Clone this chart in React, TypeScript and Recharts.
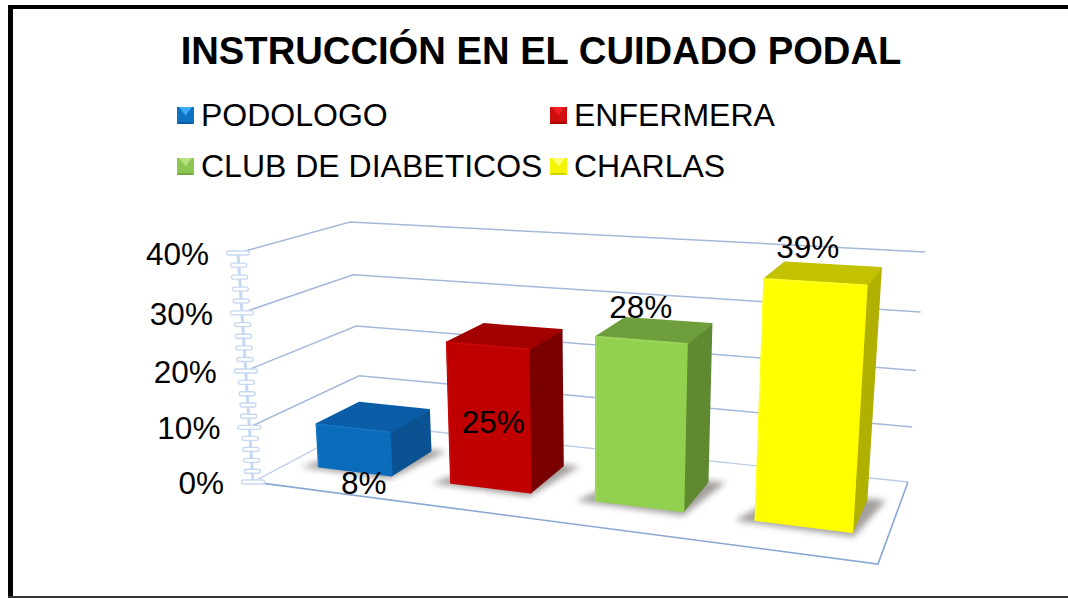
import React from "react";
import { BarChart, Bar, XAxis, YAxis, Legend, LabelList, Customized } from "recharts";

const TITLE = "INSTRUCCIÓN EN EL CUIDADO PODAL";
const categories = ["PODOLOGO", "ENFERMERA", "CLUB DE DIABETICOS", "CHARLAS"];
const percentValues = [8, 25, 28, 39];
const axisTicks = [0, 2, 4, 6, 8, 10, 12, 14, 16, 18, 20, 22, 24, 26, 28, 30, 32, 34, 36, 38, 40];
const gridValues = [10, 20, 30, 40];
const AXIS_MAX = 40;

const rows = categories.map((name, i) => ({ name, value: percentValues[i] }));

const FRONT = ["#0b6cbb", "#c00000", "#92d050", "#ffff00"];
const TOP = ["#0a5da6", "#a30000", "#6f9f3d", "#c2c200"];
const SIDE = ["#0a5292", "#7a0000", "#5f8a31", "#b0b000"];
const EDGE = ["#1a78c4", "#cc0a0a", "#a0d963", "#ffff30"];
const LEGEND_LIGHT = ["#3fa9f5", "#f02020", "#b7e07e", "#ffff70"];
const LEGEND_MID = ["#0f74c4", "#cf0f0f", "#8ec653", "#f4f400"];
const LEGEND_DARK = ["#0a5ea8", "#a30000", "#74a53f", "#d0d000"];
const LABEL_NUDGE = [[11, 55], [6, 76], [0, -33], [-7, -35]];

const W = 1068;
const H = 598;
const PLOT = { left: 250, top: 250, width: 650, height: 230 };
const BAR_SHIFT = 0.005;
const FONT = "'Liberation Sans', Arial, sans-serif";

type P = [number, number];
// corners: front-left, front-right, back-right, back-left
const FLOOR: P[] = [[253, 482], [878, 564], [908, 482], [362, 424]];
const CEIL: P[] = [[238, 253], [895, 296], [925, 252], [350, 222]];

function homography(q: P[]) {
  const [[x0, y0], [x1, y1], [x2, y2], [x3, y3]] = q;
  const sx = x0 - x1 + x2 - x3;
  const sy = y0 - y1 + y2 - y3;
  const dx1 = x1 - x2, dx2 = x3 - x2, dy1 = y1 - y2, dy2 = y3 - y2;
  const den = dx1 * dy2 - dx2 * dy1;
  const g = (sx * dy2 - dx2 * sy) / den;
  const h = (dx1 * sy - sx * dy1) / den;
  const a = x1 - x0 + g * x1, b = x3 - x0 + h * x3;
  const d = y1 - y0 + g * y1, e = y3 - y0 + h * y3;
  return (u: number, t: number): P => {
    const w = 1 + g * u + h * t;
    return [(a * u + b * t + x0) / w, (d * u + e * t + y0) / w];
  };
}
const floorH = homography(FLOOR);
const ceilH = homography(CEIL);
function project(u: number, depth: number, v: number): P {
  const a = floorH(u, depth);
  const b = ceilH(u, depth);
  // the view looks slightly upward, so higher values are spaced a little wider
  const k = v * (1 - 0.06 * (1 - v));
  return [a[0] + (b[0] - a[0]) * k, a[1] + (b[1] - a[1]) * k];
}
const pts = (list: P[]) => list.map((p) => `${p[0].toFixed(1)},${p[1].toFixed(1)}`).join(" ");

const D0 = 0.3;
const D1 = 0.7;

function Bar3D(props: any) {
  const { x, y, width, height, index } = props;
  if (height == null) return null;
  const u0 = (x - PLOT.left) / PLOT.width + BAR_SHIFT;
  const u1 = (x + width - PLOT.left) / PLOT.width + BAR_SHIFT;
  const v = (PLOT.top + PLOT.height - y) / PLOT.height;
  const fbl = project(u0, D0, 0), fbr = project(u1, D0, 0), bbr = project(u1, D1, 0);
  const ftl = project(u0, D0, v), ftr = project(u1, D0, v);
  const btr = project(u1, D1, v), btl = project(u0, D1, v);
  const shadow: P[] = [
    project(u0 - 0.028, D0 - 0.035, 0),
    project(u1 + 0.005, D0 - 0.05, 0),
    project(u1 + 0.028, D1 + 0.02, 0),
    project(u0 + 0.02, D1, 0),
  ];
  const round = { strokeLinejoin: "round" as const, strokeWidth: 2 };
  return (
    <g>
      <polygon points={pts(shadow)} fill="#77726e" opacity={0.68} filter="url(#barShadow)" />
      <polygon points={pts([fbr, bbr, btr, ftr])} fill={SIDE[index]} stroke={SIDE[index]} {...round} />
      <polygon points={pts([ftl, ftr, btr, btl])} fill={TOP[index]} stroke={TOP[index]} {...round} />
      <polygon points={pts([fbl, fbr, ftr, ftl])} fill={FRONT[index]} stroke={FRONT[index]} {...round} />
      <polyline points={pts([fbl, ftl, ftr])} fill="none" stroke={EDGE[index]} strokeWidth={1.2} strokeLinejoin="round" />
    </g>
  );
}

function ValueLabel(props: any) {
  const { x, y, width, index, value } = props;
  const u = (x + width / 2 - PLOT.left) / PLOT.width + BAR_SHIFT;
  const v = (PLOT.top + PLOT.height - y) / PLOT.height;
  const p = project(u, D0, v);
  return (
    <text
      x={p[0] + LABEL_NUDGE[index][0]}
      y={p[1] + LABEL_NUDGE[index][1]}
      textAnchor="middle"
      dominantBaseline="central"
      fontFamily={FONT}
      fontSize={31.5}
      fill="#000"
    >
      {value}%
    </text>
  );
}

function AxisTick(props: any) {
  const value = props.payload.value as number;
  const p = project(0, 0, value / AXIS_MAX);
  const major = value % 10 === 0;
  const w = major ? 23 : 16;
  return (
    <g>
      <rect
        x={p[0] - w / 2}
        y={p[1] - 2}
        width={w}
        height={4}
        rx={2}
        fill="#fff"
        stroke="#c6d9f1"
        strokeWidth={1.4}
      />
      {major && (
        <text
          x={p[0] - 29}
          y={p[1] + 1}
          textAnchor="end"
          dominantBaseline="central"
          fontFamily={FONT}
          fontSize={31.5}
          fill="#000"
        >
          {value}%
        </text>
      )}
    </g>
  );
}

function Walls() {
  const spineA = project(0, 0, 0);
  const spineB = project(0, 0, 1);
  return (
    <g fill="none">
      <defs>
        <filter id="barShadow" x="-30%" y="-30%" width="160%" height="160%">
          <feGaussianBlur stdDeviation="3.2" />
        </filter>
      </defs>
      {gridValues.map((g) => {
        const v = g / AXIS_MAX;
        return (
          <polyline
            key={g}
            points={pts([project(0, 0, v), project(0, 1, v), project(1, 1, v)])}
            stroke="#a4b9d9"
            strokeWidth={1.5}
          />
        );
      })}
      <polyline
        points={pts([project(0, 0, 0), project(0, 1, 0), project(1, 1, 0)])}
        stroke="#bccde6"
        strokeWidth={1.3}
      />
      <polyline
        points={pts([project(0, 0, 0), project(1, 0, 0), project(1, 1, 0)])}
        stroke="#8aa7d4"
        strokeWidth={1.6}
      />
      <line x1={spineA[0]} y1={spineA[1]} x2={spineB[0]} y2={spineB[1]} stroke="#c6d9f1" strokeWidth={3} />
    </g>
  );
}

function LegendSwatch({ index }: { index: number }) {
  const s = 17;
  const c = s / 2;
  return (
    <svg width={s} height={s} style={{ display: "block", flex: "none" }}>
      <rect width={s} height={s} fill={LEGEND_MID[index]} />
      <polygon points={`2,0 ${s - 2},0 ${c},${c}`} fill={LEGEND_LIGHT[index]} />
      <polygon points={`0,${s} ${s},${s} ${s - 2},${s - 2} 2,${s - 2}`} fill={LEGEND_DARK[index]} />
    </svg>
  );
}

function LegendGrid() {
  const cols = [177, 550];
  const rowsY = [0, 51];
  return (
    <div style={{ position: "relative", width: W, height: 110, fontFamily: FONT, fontSize: 32, color: "#000" }}>
      {categories.map((name, i) => (
        <div
          key={name}
          style={{
            position: "absolute",
            left: cols[i % 2],
            top: rowsY[Math.floor(i / 2)],
            height: 50,
            display: "flex",
            alignItems: "center",
            gap: 7,
            whiteSpace: "nowrap",
            lineHeight: "50px",
          }}
        >
          <LegendSwatch index={i} />
          <span>{name}</span>
        </div>
      ))}
    </div>
  );
}

export default function App() {
  return (
    <div style={{ position: "absolute", left: 0, top: 0, width: W, height: H, background: "#fff", overflow: "hidden" }}>
      <div style={{ position: "absolute", left: 8, top: 5, width: W - 8, height: 4, background: "#000" }} />
      <div style={{ position: "absolute", left: 8, top: 5, width: 5, height: H - 5, background: "#000" }} />
      <div style={{ position: "absolute", left: 8, top: 596, width: W - 8, height: 1.5, background: "#333" }} />
      <div
        style={{
          position: "absolute",
          left: 0,
          width: 1082,
          top: 26,
          height: 50,
          lineHeight: "50px",
          textAlign: "center",
          fontFamily: FONT,
          fontWeight: 700,
          fontSize: 38.2,
          color: "#000",
          whiteSpace: "nowrap",
        }}
      >
        {TITLE}
      </div>
      <BarChart
        width={W}
        height={H}
        data={rows}
        barCategoryGap="22%"
        margin={{
          left: PLOT.left - 60,
          top: PLOT.top,
          right: W - PLOT.left - PLOT.width,
          bottom: H - PLOT.top - PLOT.height,
        }}
        style={{ position: "absolute", left: 0, top: 0 }}
      >
        <Customized component={<Walls />} />
        <XAxis dataKey="name" hide />
        <YAxis
          width={60}
          domain={[0, AXIS_MAX]}
          ticks={axisTicks}
          interval={0}
          axisLine={false}
          tickLine={false}
          tick={(p: any) => <AxisTick {...p} />}
        />
        <Legend
          layout="horizontal"
          verticalAlign="middle"
          align="center"
          content={() => <LegendGrid />}
          wrapperStyle={{ left: 0, top: 90, width: W, height: 110 }}
        />
        <Bar dataKey="value" isAnimationActive={false} shape={(p: any) => <Bar3D {...p} />}>
          <LabelList dataKey="value" content={(p: any) => <ValueLabel {...p} />} />
        </Bar>
      </BarChart>
    </div>
  );
}
